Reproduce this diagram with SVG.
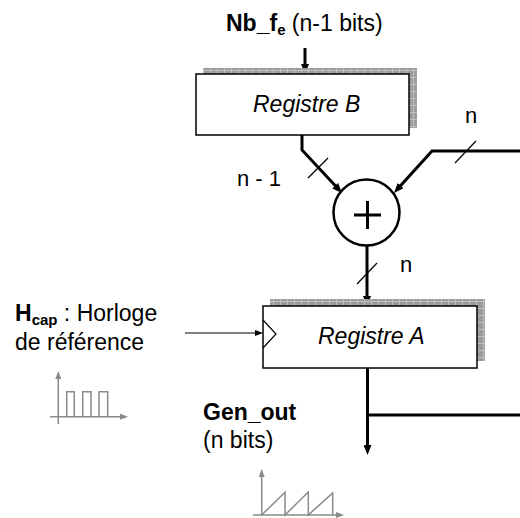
<svg xmlns="http://www.w3.org/2000/svg" width="520" height="518" viewBox="0 0 520 518">
  <defs>
    <pattern id="hatch" width="7" height="7" patternUnits="userSpaceOnUse">
      <rect width="7" height="7" fill="#9c9c9c"/>
      <path d="M0 0.5H7M0.5 0V7" stroke="#c0c0c0" stroke-width="1"/>
    </pattern>
    <marker id="arrowThick" markerUnits="userSpaceOnUse" markerWidth="10" markerHeight="8" refX="4" refY="4" orient="auto">
      <path d="M0,0 L10,4 L0,8 z" fill="#000"/>
    </marker>
    <marker id="arrowThin" markerUnits="userSpaceOnUse" markerWidth="8" markerHeight="6" refX="6" refY="3" orient="auto">
      <path d="M0,0 L8,3 L0,6 z" fill="#000"/>
    </marker>
    <marker id="arrowGray" markerUnits="userSpaceOnUse" markerWidth="8" markerHeight="6" refX="6" refY="3" orient="auto">
      <path d="M0,0 L8,3 L0,6 z" fill="#8a8a8a"/>
    </marker>
  </defs>
  <style>
    text { font-family: "Liberation Sans", Arial, Helvetica, sans-serif; fill: #000; }
    .lbl { font-size: 23px; }
    .sm { font-size: 22px; }
    .bold { font-weight: bold; }
    .reg { font-size: 23px; font-style: italic; }
    .box { fill: #fff; stroke: #000; stroke-width: 1.5; }
    .shadow { fill: url(#hatch); }
    .thick { fill: none; stroke: #000; stroke-width: 3; }
    .thin { fill: none; stroke: #000; stroke-width: 1.2; }
    .wave { fill: none; stroke: #8a8a8a; stroke-width: 1.5; }
  </style>
  <rect width="520" height="518" fill="#fff"/>

  <g id="connectors">
    <path class="thick" d="M305,48 V68" marker-end="url(#arrowThick)"/>
    <path class="thick" d="M302,135 V150 L337.9,188.6" marker-end="url(#arrowThick)"/>
    <path class="thick" d="M520,151 H432 L398,188.5" marker-end="url(#arrowThick)"/>
    <path class="thick" d="M367,246 V300" marker-end="url(#arrowThick)"/>
    <path class="thick" d="M367.5,368 V449" marker-end="url(#arrowThick)"/>
    <path class="thick" d="M367.5,415 H520"/>
    <path class="thin" d="M185,333 H261" marker-end="url(#arrowThin)"/>
    <path class="thin" d="M308,178 L328,158"/>
    <path class="thin" d="M455,163 L476,141"/>
    <path class="thin" d="M357,284 L377,263"/>
  </g>

  <g id="regB">
    <rect class="shadow" x="203" y="68" width="214" height="60"/>
    <rect class="box" x="196" y="74" width="213" height="61"/>
    <text class="reg" x="253" y="112">Registre B</text>
  </g>

  <g id="adder">
    <circle cx="366.5" cy="212.5" r="33" fill="#fff" stroke="#000" stroke-width="2.5"/>
    <path d="M354,215 H381 M367.5,201 V229" stroke="#000" stroke-width="3" fill="none"/>
  </g>

  <g id="regA">
    <rect class="shadow" x="270" y="299" width="215" height="62"/>
    <rect class="box" x="263" y="306" width="214" height="62"/>
    <path class="thin" d="M263,320 L276,334 L263,348" stroke-width="1"/>
    <text class="reg" x="318" y="344">Registre A</text>
  </g>

  <g id="labels">
    <text class="lbl" x="226" y="31"><tspan class="bold">Nb_f</tspan><tspan class="bold" font-size="15" dy="4">e</tspan><tspan dy="-4"> (n-1 bits)</tspan></text>
    <text class="sm" x="237" y="186">n - 1</text>
    <text class="sm" x="465" y="123">n</text>
    <text class="sm" x="400" y="272">n</text>
    <text class="lbl" x="15" y="321"><tspan class="bold">H</tspan><tspan class="bold" font-size="15" dy="4">cap</tspan><tspan dy="-4"> : Horloge</tspan></text>
    <text class="lbl" x="15" y="350">de référence</text>
    <text class="lbl bold" x="203" y="420">Gen_out</text>
    <text class="lbl" x="203" y="448">(n bits)</text>
  </g>

  <g id="clock-wave">
    <path class="wave" d="M58.3,424 V373" marker-end="url(#arrowGray)"/>
    <path class="wave" d="M50,416.7 H126" marker-end="url(#arrowGray)"/>
    <path class="wave" d="M66.7,416.7 V391.7 H74.3 V416.7 M82.7,416.7 V391.7 H91 V416.7 M99,416.7 V391.7 H107.7 V416.7"/>
  </g>

  <g id="saw-wave">
    <path class="wave" d="M261.7,516 V471" marker-end="url(#arrowGray)"/>
    <path class="wave" d="M253,515 H342" marker-end="url(#arrowGray)"/>
    <path class="wave" d="M261.7,515 L285,492.3 V515 L308.3,492 V515 L332.7,493 V515"/>
  </g>
</svg>
